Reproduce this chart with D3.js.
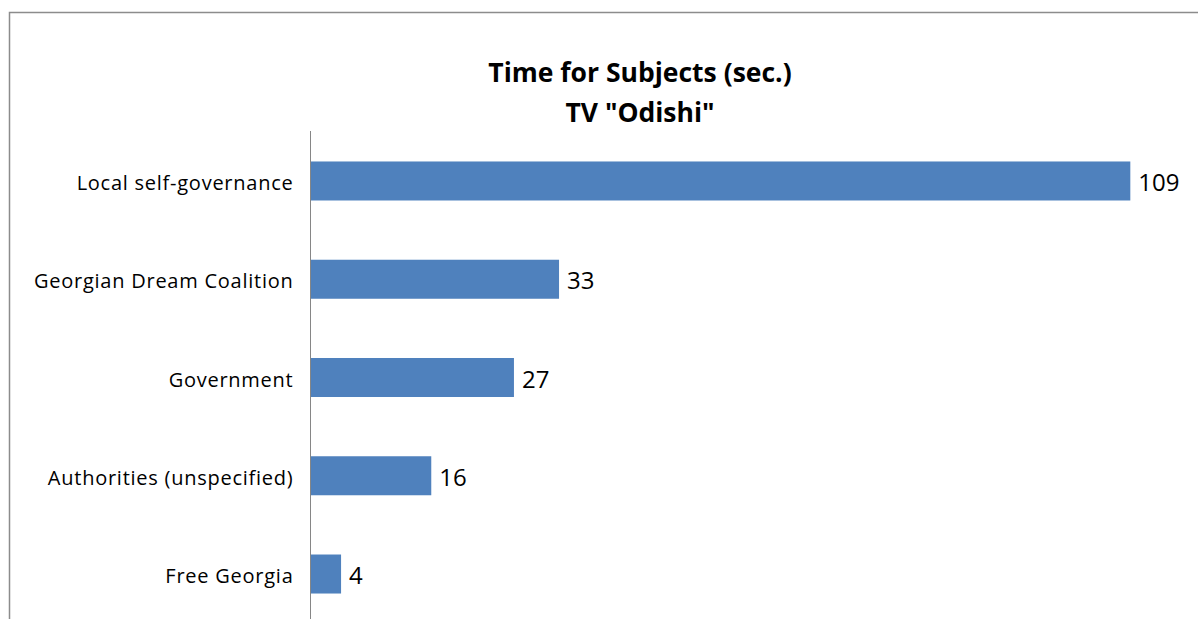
<!DOCTYPE html>
<html>
<head>
<meta charset="utf-8">
<script src="https://cdn.jsdelivr.net/npm/d3@7"></script>
<style>
  body { margin: 0; background: #fff; }
  svg { display: block; }
  text { font-family: "Open Sans", "Liberation Sans", sans-serif; }
</style>
</head>
<body>
<svg id="svg"></svg>
<script>
// chart data
const categories = ['Local self-governance', 'Georgian Dream Coalition', 'Government', 'Authorities (unspecified)', 'Free Georgia'];
const seconds = [109, 33, 27, 16, 4];
const titleLines = ['Time for Subjects (sec.)', 'TV "Odishi"'];

const width = 1198;
const height = 619;

const svg = d3.select('#svg')
  .attr('width', width)
  .attr('height', height);

// chart frame (only top + left edges are visible in the window)
svg.append('path')
  .attr('d', `M9.5,${height} V12.5 H${width}`)
  .attr('fill', 'none')
  .attr('stroke', '#8c8c8c')
  .attr('stroke-width', 1.5);

const rows = categories.map((c, i) => ({ name: c, value: seconds[i] }));

const yScale = d3.scaleBand()
  .domain(categories)
  .range([132, 623])
  .paddingInner(0.603)
  .paddingOuter(0.3);

const xScale = d3.scaleLinear()
  .domain([0, 120])
  .range([311, 1213]);

// title
svg.append('g')
  .selectAll('text')
  .data(titleLines)
  .join('text')
  .attr('x', 640)
  .attr('y', (d, i) => 82 + i * 40)
  .attr('text-anchor', 'middle')
  .attr('font-size', '26.5px')
  .attr('font-weight', 'bold')
  .attr('fill', '#000')
  .text(d => d);

const g = svg.append('g');

g.selectAll('rect')
  .data(rows)
  .join('rect')
  .attr('x', xScale(0))
  .attr('y', d => yScale(d.name))
  .attr('width', d => xScale(d.value) - xScale(0))
  .attr('height', yScale.bandwidth())
  .attr('fill', '#4f81bd');

// value labels
g.selectAll('text.value')
  .data(rows)
  .join('text')
  .attr('class', 'value')
  .attr('x', d => xScale(d.value) + 8)
  .attr('y', d => yScale(d.name) + yScale.bandwidth() / 2)
  .attr('dy', '0.42em')
  .attr('font-size', '24px')
  .attr('fill', '#000')
  .text(d => d.value);

// category axis
const yAxis = d3.axisLeft(yScale).tickSize(0).tickPadding(17);
const axisG = svg.append('g')
  .attr('transform', `translate(${xScale(0) - 0.5},0)`)
  .call(yAxis);
axisG.select('.domain')
  .attr('d', `M0,131V${height}`)
  .attr('stroke', '#868686');
axisG.selectAll('text')
  .attr('font-size', '20px')
  .attr('letter-spacing', '0.75px')
  .attr('dy', '0.45em')
  .attr('font-family', '"Open Sans", sans-serif')
  .attr('fill', '#000');
</script>
</body>
</html>
